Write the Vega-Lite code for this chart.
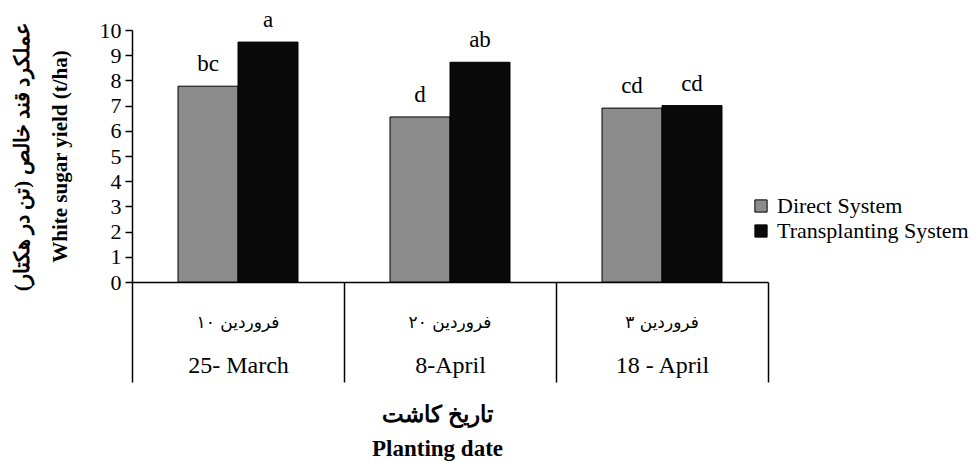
{
  "$schema": "https://vega.github.io/schema/vega-lite/v6.json",
  "autosize": "none",
  "width": 636,
  "height": 252,
  "padding": {"left": 132, "top": 30, "right": 210, "bottom": 181},
  "background": "white",
  "config": {
    "view": {"stroke": null},
    "font": "Liberation Serif",
    "axis": {"labelFont": "Liberation Serif", "titleFont": "Liberation Serif", "labelColor": "black", "titleColor": "black", "domainColor": "black", "tickColor": "black"},
    "legend": {"labelFont": "Liberation Serif"}
  },
  "data": {
    "values": [
      {"date": "25- March|۱۰ فروردین", "system": "Direct System", "yield": 7.77, "sig": "bc"},
      {"date": "25- March|۱۰ فروردین", "system": "Transplanting System", "yield": 9.52, "sig": "a"},
      {"date": "8-April|۲۰ فروردین", "system": "Direct System", "yield": 6.55, "sig": "d"},
      {"date": "8-April|۲۰ فروردین", "system": "Transplanting System", "yield": 8.72, "sig": "ab"},
      {"date": "18 - April|۳ فروردین", "system": "Direct System", "yield": 6.9, "sig": "cd"},
      {"date": "18 - April|۳ فروردین", "system": "Transplanting System", "yield": 7.0, "sig": "cd"}
    ]
  },
  "encoding": {
    "xOffset": {"field": "system", "type": "nominal", "scale": {"paddingInner": 0, "paddingOuter": 0.767}},
    "y": {
      "field": "yield", "type": "quantitative",
      "scale": {"domain": [0, 10]},
      "axis": {
        "title": ["عملکرد قند خالص (تن در هکتار)", "White sugar yield (t/ha)"],
        "titleFontSize": 21, "titleFontWeight": "bold", "titleLineHeight": 38, "titlePadding": 29,
        "values": [0,1,2,3,4,5,6,7,8,9,10],
        "labelFontSize": 22, "labelPadding": 4, "tickSize": 7, "tickWidth": 1.5, "domainWidth": 1.5, "grid": false
      }
    }
  },
  "resolve": {"axis": {"x": "independent"}},
  "layer": [
    {
      "mark": {"type": "bar", "stroke": "black", "strokeWidth": 1},
      "encoding": {
        "x": {
          "field": "date", "type": "nominal", "sort": null,
          "scale": {"paddingInner": 0, "paddingOuter": 0},
          "axis": {
            "orient": "bottom",
            "title": ["تاریخ کاشت", "Planting date"],
            "titleFontSize": 23, "titleFontWeight": "bold", "titleLineHeight": 34, "titlePadding": 21, "titleX": 305,
            "labelExpr": "split(datum.label, '|')[0]",
            "labelAngle": 0, "labelFontSize": 24, "labelBaseline": "top",
            "labelPadding": -29,
            "tickBand": "extent", "tickSize": 100, "tickWidth": 1.5, "domainWidth": 1.5
          }
        },
        "color": {
          "field": "system", "type": "nominal",
          "scale": {"domain": ["Direct System", "Transplanting System"], "range": ["#8c8c8c", "#0a0a0a"]},
          "legend": {
            "title": null, "orient": "none", "legendX": 618, "legendY": 165,
            "symbolType": "square", "symbolSize": 150, "symbolStrokeColor": "black", "symbolStrokeWidth": 1,
            "labelFontSize": 22, "labelLimit": 400, "rowPadding": 3, "labelOffset": 5
          }
        }
      }
    },
    {
      "mark": {"type": "text", "baseline": "bottom", "dy": -10, "fontSize": 23, "font": "Liberation Serif", "color": "black"},
      "encoding": {
        "x": {
          "field": "date", "type": "nominal", "sort": null,
          "scale": {"paddingInner": 0, "paddingOuter": 0},
          "axis": {
            "orient": "bottom",
            "title": null, "domain": false, "ticks": false,
            "labelExpr": "split(datum.label, '|')[1]",
            "labelAngle": 0, "labelFont": "DejaVu Sans", "labelFontSize": 17, "labelBaseline": "top",
            "labelPadding": 32
          }
        },
        "text": {"field": "sig"}
      }
    }
  ]
}
